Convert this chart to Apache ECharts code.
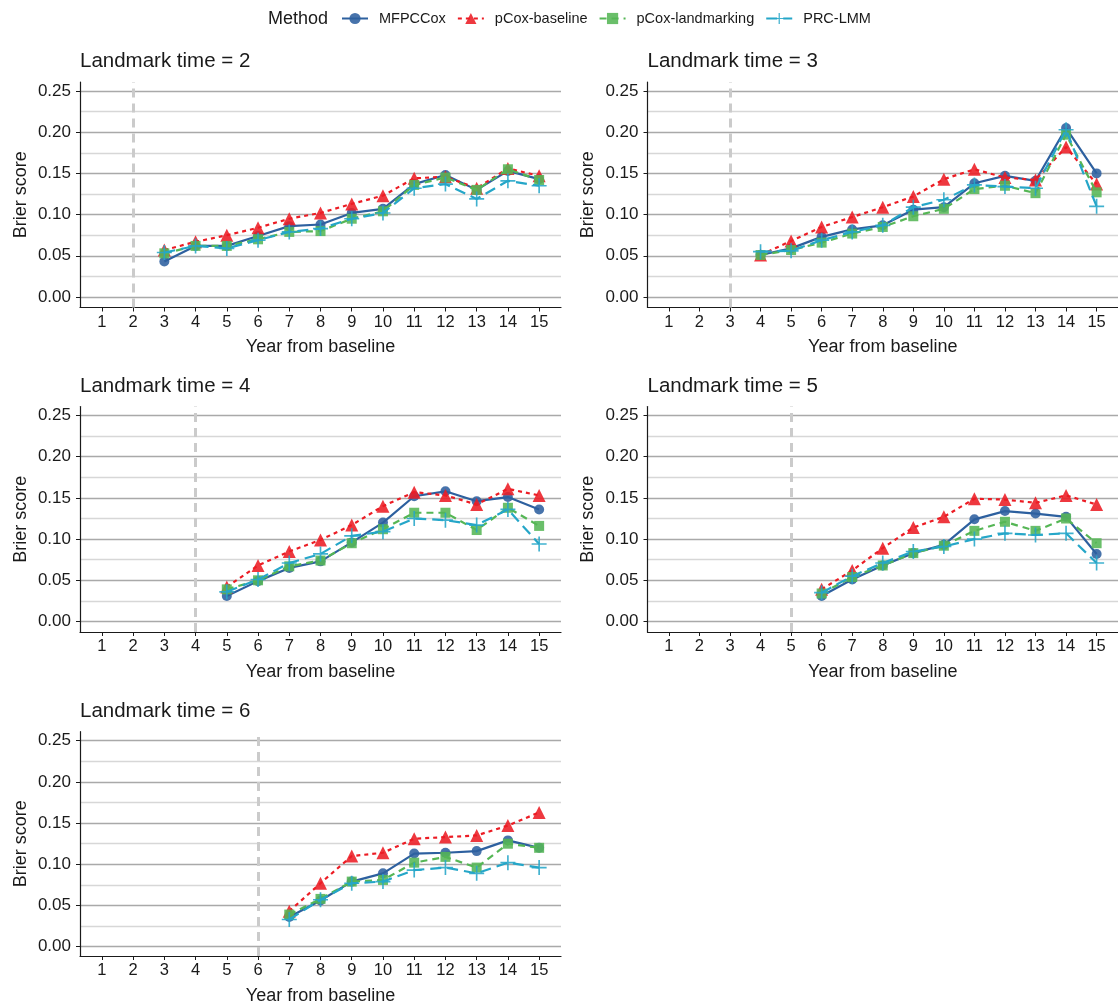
<!DOCTYPE html>
<html>
<head>
    <meta charset="UTF-8">
    <title>Brier score by landmark time</title>
    <script type="text/javascript" src="https://cdn.jsdelivr.net/npm/echarts@6/dist/echarts.min.js"></script>
    <style>
        html, body { margin: 0; padding: 0; background: #fff; }
    </style>
</head>
<body>
<div id="main" style="width: 1118px;height:1006px;"></div>
<script type="text/javascript">
    // 数据：每个方法一组，按 landmark 时间 2..6 排列，年份从 landmark+1 到 15
    var landmarks = [2, 3, 4, 5, 6];
    var yearTicks = [1, 2, 3, 4, 5, 6, 7, 8, 9, 10, 11, 12, 13, 14, 15];
    var scoreTicks = [0, 0.05, 0.10, 0.15, 0.20, 0.25];
    var methods = ['MFPCCox', 'pCox-baseline', 'pCox-landmarking', 'PRC-LMM'];

    var mfpccox = [
        [0.043, 0.062, 0.062, 0.074, 0.086, 0.088, 0.102, 0.107, 0.137, 0.148, 0.130, 0.153, 0.143],
        [0.051, 0.059, 0.073, 0.082, 0.087, 0.106, 0.109, 0.138, 0.147, 0.141, 0.205, 0.150],
        [0.031, 0.049, 0.065, 0.073, 0.096, 0.120, 0.152, 0.158, 0.146, 0.151, 0.136],
        [0.031, 0.051, 0.068, 0.083, 0.093, 0.124, 0.134, 0.131, 0.127, 0.082],
        [0.036, 0.056, 0.079, 0.089, 0.113, 0.114, 0.116, 0.129, 0.120]
    ];
    var pcoxBaseline = [
        [0.057, 0.067, 0.075, 0.084, 0.095, 0.102, 0.113, 0.123, 0.144, 0.146, 0.132, 0.156, 0.147],
        [0.051, 0.068, 0.085, 0.097, 0.109, 0.122, 0.143, 0.155, 0.145, 0.142, 0.182, 0.137],
        [0.042, 0.068, 0.085, 0.099, 0.117, 0.140, 0.157, 0.153, 0.142, 0.161, 0.153],
        [0.039, 0.062, 0.089, 0.114, 0.127, 0.149, 0.148, 0.144, 0.153, 0.142],
        [0.043, 0.077, 0.110, 0.114, 0.131, 0.133, 0.135, 0.147, 0.163]
    ];
    var pcoxLandmarking = [
        [0.053, 0.062, 0.062, 0.070, 0.079, 0.080, 0.095, 0.104, 0.136, 0.145, 0.130, 0.155, 0.142],
        [0.051, 0.057, 0.066, 0.077, 0.085, 0.098, 0.107, 0.131, 0.135, 0.126, 0.197, 0.127],
        [0.039, 0.050, 0.067, 0.074, 0.095, 0.112, 0.132, 0.132, 0.111, 0.138, 0.116],
        [0.034, 0.054, 0.068, 0.083, 0.092, 0.110, 0.121, 0.110, 0.125, 0.095],
        [0.039, 0.058, 0.079, 0.081, 0.102, 0.109, 0.096, 0.125, 0.120]
    ];
    var prcLmm = [
        [0.054, 0.062, 0.059, 0.069, 0.079, 0.083, 0.095, 0.102, 0.132, 0.137, 0.119, 0.141, 0.135],
        [0.055, 0.056, 0.069, 0.079, 0.087, 0.109, 0.118, 0.136, 0.134, 0.132, 0.203, 0.110],
        [0.036, 0.051, 0.071, 0.082, 0.104, 0.109, 0.125, 0.123, 0.117, 0.136, 0.094],
        [0.035, 0.055, 0.071, 0.085, 0.091, 0.100, 0.107, 0.105, 0.107, 0.071],
        [0.033, 0.057, 0.077, 0.079, 0.093, 0.096, 0.089, 0.102, 0.096]
    ];

    var font = "'Liberation Sans', Arial, sans-serif";
    var plusPath = 'path://M4.45,0h1.1v4.45h4.45v1.1h-4.45v4.45h-1.1v-4.45h-4.45v-1.1h4.45z';

    var styles = [
        {color: '#2d609f', symbol: 'circle', size: 10, dash: 'solid'},
        {color: '#ec1c24', symbol: 'triangle', size: 13, dash: [4, 4]},
        {color: '#55b655', symbol: 'rect', size: 10, dash: [7, 5]},
        {color: '#25a6c8', symbol: plusPath, size: 15, dash: [11, 6]}
    ];
    var allData = [mfpccox, pcoxBaseline, pcoxLandmarking, prcLmm];

    // 面板位置
    var panelPos = [
        {left: 80, top: 82, width: 481},
        {left: 647.5, top: 82, width: 480},
        {left: 80, top: 406.5, width: 481},
        {left: 647.5, top: 406.5, width: 480},
        {left: 80, top: 731.7, width: 481}
    ];
    var frameH = 225.5, innerOff = 9, innerH = 206;

    var grid = [], xAxis = [], yAxis = [], series = [], title = [];

    title.push({
        text: 'Method', left: 268, top: 10, padding: 0,
        textStyle: {fontFamily: font, fontSize: 18, fontWeight: 'normal', color: '#1a1a1a'}
    });

    landmarks.forEach(function (lm, p) {
        var pos = panelPos[p];
        var fi = p * 2, di = p * 2 + 1;

        // 外框 grid：坐标轴线、x 轴刻度、轴标题
        grid.push({left: pos.left, top: pos.top, width: pos.width, height: frameH});
        // 数据 grid：0..0.25
        grid.push({left: pos.left, top: pos.top + innerOff, width: pos.width, height: innerH});

        xAxis.push({
            gridIndex: fi, type: 'value', min: 0.3, max: 15.7,
            name: 'Year from baseline', nameLocation: 'middle', nameGap: 31,
            nameTextStyle: {fontFamily: font, fontSize: 18, color: '#1a1a1a'},
            axisLine: {show: true, onZero: false, lineStyle: {color: '#1a1a1a', width: 1.2}},
            axisTick: {show: true, length: 4, customValues: yearTicks, lineStyle: {color: '#1a1a1a'}},
            axisLabel: {show: true, customValues: yearTicks, margin: 6, fontFamily: font, fontSize: 16.5, color: '#1a1a1a'},
            splitLine: {show: false}
        });
        xAxis.push({gridIndex: di, type: 'value', min: 0.3, max: 15.7, show: false});

        yAxis.push({
            gridIndex: fi, type: 'value', min: 0, max: 1,
            name: 'Brier score', nameLocation: 'middle', nameGap: 50,
            nameTextStyle: {fontFamily: font, fontSize: 18, color: '#1a1a1a'},
            axisLine: {show: true, onZero: false, lineStyle: {color: '#1a1a1a', width: 1.2}},
            axisTick: {show: false}, axisLabel: {show: false}, splitLine: {show: false}
        });
        yAxis.push({
            gridIndex: di, type: 'value', min: 0, max: 0.25, interval: 0.05,
            axisLine: {show: false},
            axisTick: {show: true, length: 4, lineStyle: {color: '#1a1a1a'}},
            axisLabel: {
                margin: 9, fontFamily: font, fontSize: 17, color: '#1a1a1a',
                formatter: function (v) { return v.toFixed(2); }
            },
            splitLine: {show: true, lineStyle: {color: '#a9a9a9', width: 1.4}},
            minorTick: {show: false, splitNumber: 2},
            minorSplitLine: {show: true, lineStyle: {color: '#d7d7d7', width: 1.4}}
        });

        title.push({
            text: 'Landmark time = ' + lm, left: pos.left, top: pos.top - 31, padding: 0,
            textStyle: {fontFamily: font, fontSize: 20.5, fontWeight: 'normal', color: '#1a1a1a'}
        });

        // landmark 竖虚线
        series.push({
            type: 'line', xAxisIndex: fi, yAxisIndex: fi, data: [[lm, 0.5]],
            showSymbol: false, lineStyle: {width: 0}, silent: true,
            markLine: {
                silent: true, symbol: 'none', label: {show: false},
                lineStyle: {color: '#cbcbcb', width: 3, type: [9, 6]},
                data: [{xAxis: lm}]
            }
        });

        var years = yearTicks.slice(lm);
        methods.forEach(function (m, k) {
            var st = styles[k];
            var vals = allData[k][p];
            series.push({
                name: m, type: 'line', xAxisIndex: di, yAxisIndex: di,
                data: years.map(function (y, i) { return [y, vals[i]]; }),
                symbol: st.symbol, symbolSize: st.size, showAllSymbol: true,
                lineStyle: {color: st.color, width: 2.2, type: st.dash},
                itemStyle: {color: st.color, opacity: 0.88},
                z: 3 + k
            });
        });
    });

    var myChart = echarts.init(document.getElementById('main'));
    var option = {
        animation: false,
        backgroundColor: '#ffffff',
        title: title,
        legend: {
            data: methods, left: 341, top: 11, padding: 0, itemWidth: 26, itemHeight: 14, itemGap: 11,
            textStyle: {fontFamily: font, fontSize: 14.5, color: '#1a1a1a', padding: [0, 0, 0, 6]}
        },
        grid: grid,
        xAxis: xAxis,
        yAxis: yAxis,
        series: series
    };
    myChart.setOption(option);
</script>
</body>
</html>
